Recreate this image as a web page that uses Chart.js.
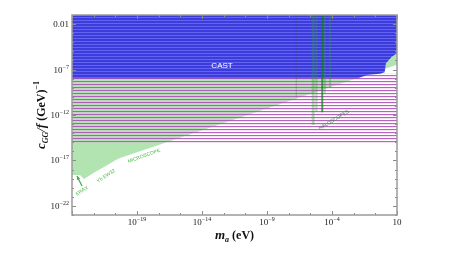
<!DOCTYPE html>
<html>
<head>
<meta charset="utf-8">
<script src="https://cdn.jsdelivr.net/npm/chart.js@4.4.0/dist/chart.umd.min.js"></script>
<style>
  html, body { margin: 0; padding: 0; background: #fff; }
  #wrap { width: 457px; height: 257px; }
</style>
</head>
<body>
<div id="wrap"><canvas id="c"></canvas></div>
<script>
// axis ranges and ticks (values, not log)
const xRange = [1e-24, 10];
const yRange = [1e-23, 1e-1];
const xTicks = [1e-19, 1e-14, 1e-9, 1e-4, 10];
const xTickLabels = [['10', '−19'], ['10', '−14'], ['10', '−9'], ['10', '−4'], ['10', '']];
const yTicks = [1e-22, 1e-17, 1e-12, 1e-7, 0.01];
const yTickLabels = [['10', '−22'], ['10', '−17'], ['10', '−12'], ['10', '−7'], ['0.01', '']];

// CAST exclusion, lower edge (log10 m_a, log10 c)
const castLogM = [-24, -2.0, -1.3, -0.3, 0.05, 0.15, 0.6, 1];
const castLogC = [-7.95, -7.95, -7.6, -7.45, -7.3, -6.3, -5.6, -5.2];

// green region, lower edge (bottom-left bump then the straight diagonal)
const greenLogM = [-24, -23.38, -23.08, -22.23, -21.54, -20.62, -20.31, 1];
const greenLogC = [-18.6, -18.6, -19.04, -18.27, -17.72, -16.95, -16.73, -6.46];

// magenta band (log10 c limits)
const bandLogC = [-15.1, -7.4];

// narrow vertical exclusions (log10 m_a, lower end log10 c)
const lineLogM = [-5.45, -5.2, -4.75, -4.55, -4.15];
const lineLogC = [-13.1, -11.6, -11.7, -9.6, -9.0];
const faintLogM = [-6.75];
const faintLogC = [-10.1];

// annotation anchors (log10 m_a, log10 c)
const labelText = ['CAST', 'HALOSCOPES', 'MICROSCOPE', 'Yb EW32', 'ERAX'];
const labelLogM = [-12.46, -3.85, -18.46, -21.38, -23.23];
const labelLogC = [-6.61, -12.55, -16.5, -18.71, -20.36];
const arrowLogM = [-23.23, -23.62];
const arrowLogC = [-19.81, -18.71];

const cv = document.getElementById('c');
const ctx0 = cv.getContext('2d');

function stripes(rows) {
    const c = document.createElement('canvas');
    c.width = 1; c.height = rows.length;
    const g = c.getContext('2d');
    rows.forEach((col, i) => { if (col) { g.fillStyle = col; g.fillRect(0, i, 1, 1); } });
    return ctx0.createPattern(c, 'repeat');
}
const bluePattern = stripes(['#3c3cdc', '#3c3cdc', '#6464f3']);
const magentaPattern = stripes(['rgba(172,82,184,0.9)', 'rgba(225,172,226,0.35)', null]);

const pts = (lm, lc) => lm.map((v, i) => ({ x: Math.pow(10, v), y: Math.pow(10, lc[i]) }));

const base = { borderWidth: 0, pointRadius: 0, tension: 0 };

const verticals = lineLogM.map((m, i) => ({
    ...base,
    data: [{ x: Math.pow(10, m), y: yRange[1] }, { x: Math.pow(10, m), y: Math.pow(10, lineLogC[i]) }],
    borderColor: i === 2 ? 'rgba(20,130,30,0.75)' : 'rgba(40,160,40,0.35)',
    borderWidth: i === 0 ? 3 : 2,
    fill: false
}));
const faint = faintLogM.map((m, i) => ({
    ...base,
    data: [{ x: Math.pow(10, m), y: yRange[1] }, { x: Math.pow(10, m), y: Math.pow(10, faintLogC[i]) }],
    borderColor: 'rgba(90,90,90,0.1)',
    borderWidth: 1,
    fill: false
}));

const datasets = [
    ...verticals,
    ...faint,
    { ...base, label: 'CAST', data: pts(castLogM, castLogC), fill: 'end', backgroundColor: bluePattern },
    { ...base, label: 'band', data: [{ x: xRange[0], y: Math.pow(10, bandLogC[0]) }, { x: xRange[1], y: Math.pow(10, bandLogC[0]) }],
      fill: { value: Math.pow(10, bandLogC[1]) }, backgroundColor: magentaPattern },
    { ...base, label: 'green', data: pts(greenLogM, greenLogC), fill: 'end', backgroundColor: 'rgb(178,228,178)' }
];

const serif = '"Liberation Serif", "DejaVu Serif", serif';
const sans = '"Liberation Sans", "DejaVu Sans", sans-serif';

function drawPow(ctx, b, e, x, y, align) {
    ctx.font = '9px ' + serif;
    const wb = ctx.measureText(b).width;
    ctx.font = '6px ' + serif;
    const we = e ? ctx.measureText(e).width : 0;
    const x0 = align === 'right' ? x - wb - we : x - (wb + we) / 2;
    ctx.textAlign = 'left';
    ctx.font = '9px ' + serif;
    ctx.fillText(b, x0, y);
    if (e) { ctx.font = '6px ' + serif; ctx.fillText(e, x0 + wb, y - 4); }
}

function drawRich(ctx, parts, cx, by) {
    let w = 0;
    parts.forEach(p => { ctx.font = p.f; p.w = ctx.measureText(p.t).width; w += p.w; });
    let x = cx - w / 2;
    ctx.textAlign = 'left';
    parts.forEach(p => { ctx.font = p.f; ctx.fillText(p.t, x, by + (p.dy || 0)); x += p.w; });
}

const labelStyle = [
    { color: '#ffffff', size: 8, angle: 0 },
    { color: '#2f8f3a', size: 5, angle: -31 },
    { color: '#48b848', size: 5, angle: -20 },
    { color: '#48b848', size: 5, angle: -33 },
    { color: '#48b848', size: 5, angle: -32 }
];

const annotations = {
    id: 'annotations',
    afterDatasetsDraw(chart) {
        const { ctx, scales: { x, y } } = chart;
        ctx.save();
        labelText.forEach((t, i) => {
            const s = labelStyle[i];
            const px = x.getPixelForValue(Math.pow(10, labelLogM[i]));
            const py = y.getPixelForValue(Math.pow(10, labelLogC[i]));
            ctx.save();
            ctx.translate(px, py);
            ctx.rotate(s.angle * Math.PI / 180);
            ctx.fillStyle = s.color;
            ctx.font = s.size + 'px ' + sans;
            ctx.textAlign = 'center';
            ctx.textBaseline = 'middle';
            ctx.fillText(t, 0, 0);
            ctx.restore();
        });
        // arrow
        const x1 = x.getPixelForValue(Math.pow(10, arrowLogM[0])), y1 = y.getPixelForValue(Math.pow(10, arrowLogC[0]));
        const x2 = x.getPixelForValue(Math.pow(10, arrowLogM[1])), y2 = y.getPixelForValue(Math.pow(10, arrowLogC[1]));
        const ang = Math.atan2(y2 - y1, x2 - x1);
        ctx.strokeStyle = '#3cae3c'; ctx.fillStyle = '#3cae3c'; ctx.lineWidth = 1.2;
        ctx.beginPath(); ctx.moveTo(x1, y1); ctx.lineTo(x2, y2); ctx.stroke();
        ctx.beginPath();
        ctx.moveTo(x2, y2);
        ctx.lineTo(x2 - 4 * Math.cos(ang - 0.45), y2 - 4 * Math.sin(ang - 0.45));
        ctx.lineTo(x2 - 4 * Math.cos(ang + 0.45), y2 - 4 * Math.sin(ang + 0.45));
        ctx.closePath(); ctx.fill();
        ctx.restore();
    }
};

const frame = {
    id: 'frame',
    afterDraw(chart) {
        const { ctx, chartArea: a, scales: { x, y } } = chart;
        ctx.save();
        // ticks on all four sides, pointing inwards
        ctx.strokeStyle = '#8a8a8a';
        ctx.lineWidth = 1;
        ctx.beginPath();
        for (let n = -4; n <= 15; n++) {
            const lv = -19 + n * 5 / 3;
            if (lv < -24 || lv > 1.001) continue;
            const px = Math.round(x.getPixelForValue(Math.pow(10, lv))) + 0.5;
            const len = n % 3 === 0 ? 4 : 2;
            ctx.moveTo(px, a.bottom); ctx.lineTo(px, a.bottom - len);
            ctx.moveTo(px, a.top); ctx.lineTo(px, a.top + len);
        }
        for (let lv = -23; lv <= -1; lv++) {
            const py = Math.round(y.getPixelForValue(Math.pow(10, lv))) + 0.5;
            const len = (lv + 22) % 5 === 0 ? 4 : 2;
            ctx.moveTo(a.left, py); ctx.lineTo(a.left + len, py);
            ctx.moveTo(a.right, py); ctx.lineTo(a.right - len, py);
        }
        ctx.stroke();
        ctx.strokeStyle = '#9a9a9a';
        ctx.lineWidth = 1.5;
        ctx.strokeRect(a.left, a.top, a.right - a.left, a.bottom - a.top);

        // tick labels
        ctx.fillStyle = '#222';
        ctx.textBaseline = 'alphabetic';
        xTicks.forEach((v, i) => drawPow(ctx, xTickLabels[i][0], xTickLabels[i][1], x.getPixelForValue(v), a.bottom + 10, 'center'));
        yTicks.forEach((v, i) => drawPow(ctx, yTickLabels[i][0], yTickLabels[i][1], a.left - 3, y.getPixelForValue(v) + 3, 'right'));

        // axis titles
        ctx.fillStyle = '#111';
        drawRich(ctx, [
            { t: 'm', f: 'italic bold 13px ' + serif },
            { t: 'a', f: 'italic bold 8px ' + serif, dy: 3 },
            { t: ' (eV)', f: 'bold 12px ' + serif }
        ], (a.left + a.right) / 2, 239);
        ctx.save();
        ctx.translate(45, (a.top + a.bottom) / 2);
        ctx.rotate(-Math.PI / 2);
        drawRich(ctx, [
            { t: 'c', f: 'italic bold 13px ' + serif },
            { t: 'GG', f: 'italic bold 8px ' + serif, dy: 3 },
            { t: '/f', f: 'italic bold 13px ' + serif },
            { t: ' (GeV)', f: 'bold 12px ' + serif },
            { t: '−1', f: 'bold 8px ' + serif, dy: -6 }
        ], 0, 0);
        ctx.restore();
        ctx.restore();
    }
};

new Chart(cv, {
    type: 'line',
    data: { datasets },
    options: {
        responsive: true,
        maintainAspectRatio: false,
        animation: false,
        events: [],
        layout: { padding: { left: 0, top: 15, right: 60, bottom: 0 } },
        plugins: { legend: { display: false }, tooltip: { enabled: false } },
        scales: {
            x: {
                type: 'logarithmic', min: xRange[0], max: xRange[1],
                afterBuildTicks: (s) => { s.ticks = xTicks.map(v => ({ value: v })); },
                afterFit: (s) => { s.height = 42; },
                ticks: { display: false },
                grid: { display: false },
                border: { display: false }
            },
            y: {
                type: 'logarithmic', min: yRange[0], max: yRange[1],
                afterBuildTicks: (s) => { s.ticks = yTicks.map(v => ({ value: v })); },
                afterFit: (s) => { s.width = 72; },
                ticks: { display: false },
                grid: { display: false },
                border: { display: false }
            }
        }
    },
    plugins: [annotations, frame]
});
</script>
</body>
</html>
